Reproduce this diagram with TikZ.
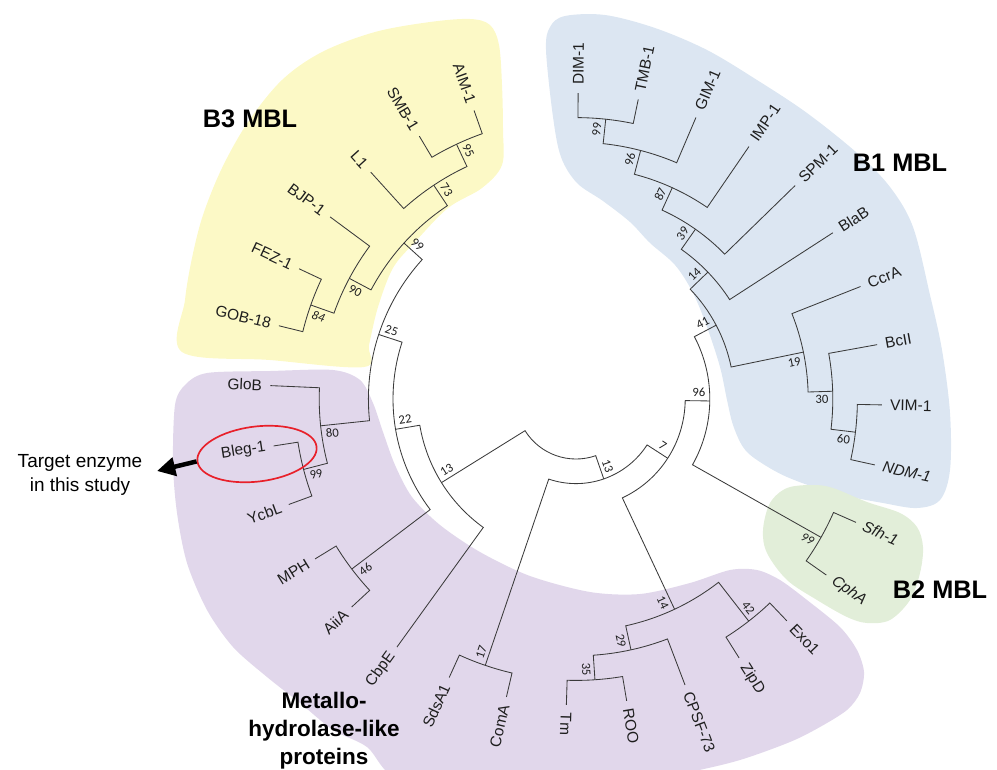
\documentclass[tikz,border=0pt]{standalone}
\usepackage{fontspec}
\setmainfont{Liberation Sans}
\newfontfamily\bootfont{Carlito}
\usetikzlibrary{arrows.meta,shapes.geometric}
\definecolor{yel}{HTML}{FCF9C6}
\definecolor{blu}{HTML}{DCE6F2}
\definecolor{grn}{HTML}{E2EED9}
\definecolor{pur}{HTML}{E1D7EB}
\definecolor{brc}{HTML}{3A3A3A}
\definecolor{txt}{HTML}{1E1E1E}
\definecolor{ellred}{HTML}{E8202A}
\tikzset{
  br/.style={draw=brc, line width=0.6pt, line join=miter},
  tiplab/.style={font=\fontsize{11}{13}\selectfont, text=txt, inner sep=0pt},
  boot/.style={font=\bootfont\fontsize{9}{10}\selectfont, text=txt, inner sep=2.5pt},
  cladelab/.style={font=\bfseries\fontsize{18}{21}\selectfont, text=black, inner sep=0pt}
}
% #1 node height, #2 pos child1, #3 height child1, #4 pos child2, #5 height child2
\newcommand\Clade[5]{\draw[br] ({tang(#2)}:{trad(#3)}) -- ({tang(#2)}:{trad(#1)})
  arc[start angle={tang(#2)}, end angle={tang(#4)}, radius={trad(#1)*0.025cm}]
  -- ({tang(#4)}:{trad(#5)});}
\newcommand\TipR[3]{\node[tiplab, rotate={-tang(#1)}, anchor=west] (#2) at ({tang(#1)}:314) {#3};}
\newcommand\TipL[3]{\node[tiplab, rotate={180-tang(#1)}, anchor=east] (#2) at ({tang(#1)}:314) {#3};}
% name, pos, height, text, rot offset, anchor
\newcommand\Boot[6]{\node[boot, rotate={#5-tang(#2)}, anchor=#6] (#1) at ({tang(#2)}:{trad(#3)-11}) {#4};}

\begin{document}
\begin{tikzpicture}[x=0.025cm, y=0.025cm, yscale=-1,
  declare function={tang(\p)=-89.6+11.338*\p; trad(\h)=60+24.6*(10-\h);}]
\useasboundingbox (0,0) rectangle (997,769);
\begin{scope}
\clip (0,0) rectangle (997,769);
\fill[yel] plot[smooth cycle, tension=0.55] coordinates {(182,352) (185,300) (192,258) (203,215) (222,168) (248,122) (282,80) (322,52) (375,32) (430,22) (470,19) (490,25) (499,45) (502,85) (503,130) (502,165) (482,188) (448,208) (415,242) (393,268) (378,307) (369,345) (364,367) (270,360)};
\fill[blu] plot[smooth cycle, tension=0.55] coordinates {(546,50) (550,27) (565,16) (605,15) (655,28) (707,50) (757,80) (807,113) (857,153) (890,187) (913,227) (930,295) (942,350) (950,413) (950,470) (940,500) (917,508) (883,503) (833,493) (787,477) (757,460) (743,447) (733,425) (727,400) (720,367) (707,327) (693,293) (675,265) (650,243) (630,222) (603,201) (577,183) (561,157) (553,117)};
\fill[grn] plot[smooth cycle, tension=0.55] coordinates {(787,488) (813,485) (833,488) (867,502) (900,513) (917,527) (923,547) (920,573) (910,600) (890,620) (867,623) (847,617) (817,600) (787,580) (767,553) (763,530) (770,503)};
\fill[pur] plot[smooth cycle, tension=0.5] coordinates {(175,405) (185,385) (207,373) (270,371) (333,370) (360,380) (373,403) (383,432) (395,465) (412,497) (440,525) (480,552) (530,576) (590,592) (640,594) (690,583) (730,570) (757,570) (780,580) (807,600) (840,627) (857,650) (864,672) (860,693) (847,710) (820,727) (790,742) (740,760) (690,772) (600,790) (500,790) (400,780) (367,747) (333,730) (300,703) (267,677) (233,647) (207,610) (187,563) (177,513) (173,463)};
\end{scope}

\begin{scope}[shift={(576,399)}]
% B1
\Clade{1}{0}{0}{1}{0}
\Clade{2}{0.5}{1}{2}{0}
\Clade{3}{1.25}{2}{3}{0}
\Clade{4}{2.125}{3}{4}{0}
\Clade{5}{3.0625}{4}{5}{0}
\Clade{1}{8}{0}{9}{0}
\Clade{2}{7}{0}{8.5}{1}
\Clade{3}{6}{0}{7.75}{2}
\Clade{6}{4.03125}{5}{6.875}{3}
% B2
\Clade{1}{10}{0}{11}{0}
\Clade{7}{5.453125}{6}{10.5}{1}
% metallo right
\Clade{1}{12}{0}{13}{0}
\Clade{1}{15}{0}{16}{0}
\Clade{2}{14}{0}{15.5}{1}
\Clade{3}{12.5}{1}{14.75}{2}
\Clade{8}{7.9765625}{7}{13.625}{3}
\Clade{1}{17}{0}{18}{0}
\Clade{9}{10.80078}{8}{17.5}{1}
% left
\Clade{1}{20}{0}{21}{0}
\Clade{1}{22}{0}{23}{0}
\Clade{2}{22.5}{1}{24}{0}
\Clade{1}{25}{0}{26}{0}
\Clade{2}{25.5}{1}{27}{0}
\Clade{1}{29}{0}{30}{0}
\Clade{2}{28}{0}{29.5}{1}
\Clade{3}{26.25}{2}{28.75}{2}
\Clade{4}{23.25}{2}{27.5}{3}
\Clade{5}{20.5}{1}{25.375}{4}
\Clade{6}{19}{0}{22.9375}{5}
\Clade{10}{14.15039}{9}{20.96875}{6}

% tip labels
\TipR{0}{dim}{DIM-1}
\TipR{1}{tmb}{TMB-1}
\TipR{2}{gim}{GIM-1}
\TipR{3}{imp}{IMP-1}
\TipR{4}{spm}{SPM-1}
\TipR{5}{blab}{BlaB}
\TipR{6}{ccra}{CcrA}
\TipR{7}{bcii}{BcII}
\TipR{8}{vim}{VIM-1}
\TipR{9}{ndm}{\textit{NDM-1}}
\TipR{10}{sfh}{\textit{Sfh-1}}
\TipR{11}{cpha}{\textit{CphA}}
\TipR{12}{exo}{Exo1}
\TipR{13}{zipd}{ZipD}
\TipR{14}{cpsf}{CPSF-73}
\TipR{15}{roo}{ROO}
\TipR{16}{tm}{Tm}
\TipL{17}{coma}{ComA}
\TipL{18}{sdsa}{SdsA1}
\TipL{19}{cbpe}{CbpE}
\TipL{20}{aiia}{AiiA}
\TipL{21}{mph}{MPH}
\TipL{22}{ycbl}{YcbL}
\TipL{23}{bleg}{Bleg-1}
\TipL{24}{glob}{GloB}
\TipL{25}{gob}{GOB-18}
\TipL{26}{fez}{FEZ-1}
\TipL{27}{bjp}{BJP-1}
\TipL{28}{lone}{L1}
\TipL{29}{smb}{SMB-1}
\TipL{30}{aim}{AIM-1}

% bootstrap values
\Boot{n99a}{0.5}{1}{99}{0}{south}
\Boot{n96a}{1.25}{2}{96}{0}{south}
\Boot{n87}{2.125}{3}{87}{0}{south}
\Boot{n39}{3.0625}{4}{39}{0}{south}
\Boot{n14a}{4.03125}{5}{14}{0}{south}
\Boot{n41}{5.453125}{6}{41}{0}{south}
\Boot{n19}{6.875}{3}{19}{0}{north}
\Boot{n30}{7.75}{2}{30}{0}{north}
\Boot{n60}{8.5}{1}{60}{0}{north}
\Boot{n96b}{7.9765625}{7}{96}{0}{south}
\Boot{n99b}{10.5}{1}{\textit{99}}{0}{north}
\Boot{n7}{10.80078}{8}{7}{0}{south}
\Boot{n42}{12.5}{1}{42}{0}{south}
\Boot{n14b}{13.625}{3}{14}{0}{north}
\Boot{n29}{14.75}{2}{29}{0}{north}
\Boot{n35}{15.5}{1}{35}{0}{north}
\Boot{n13a}{14.15039}{9}{13}{0}{south}
\Boot{n17}{17.5}{1}{17}{180}{south}
\Boot{n13b}{20.96875}{6}{13}{180}{south}
\Boot{n22}{22.9375}{5}{22}{180}{south}
\Boot{n46}{20.5}{1}{46}{180}{north}
\Boot{n25}{25.375}{4}{25}{180}{south}
\Boot{n80}{23.25}{2}{80}{180}{north}
\Boot{n99c}{22.5}{1}{99}{180}{north}
\Boot{n99d}{27.5}{3}{99}{180}{south}
\Boot{n90}{26.25}{2}{90}{180}{north}
\Boot{n84}{25.5}{1}{\textit{84}}{180}{north}
\Boot{n73}{28.75}{2}{73}{180}{south}
\Boot{n95}{29.5}{1}{95}{180}{south}
\end{scope}

% clade names
\node[cladelab] (b3) at (250,119) {B3 MBL};
\node[cladelab] (b1) at (900,163) {B1 MBL};
\node[cladelab] (b2) at (940,590) {B2 MBL};
\node[cladelab, font=\bfseries\fontsize{16}{20}\selectfont, align=center] (metallo) at (324,731) {Metallo-\\hydrolase-like\\proteins};

% target
\node[draw=ellred, line width=1.2pt, ellipse, minimum width=3cm, minimum height=1.375cm, inner sep=0pt, rotate=7] (ell) at (257,454) {};
\node[align=center, font=\fontsize{13.5}{17}\selectfont, inner sep=0pt] (target) at (80,475) {Target enzyme\\in this study};
\coordinate (arrtip) at (157,471);
\draw[line width=3.2pt, -{Triangle[length=13pt,width=13pt]}] (ell.west) -- (arrtip);
\end{tikzpicture}
\end{document}
